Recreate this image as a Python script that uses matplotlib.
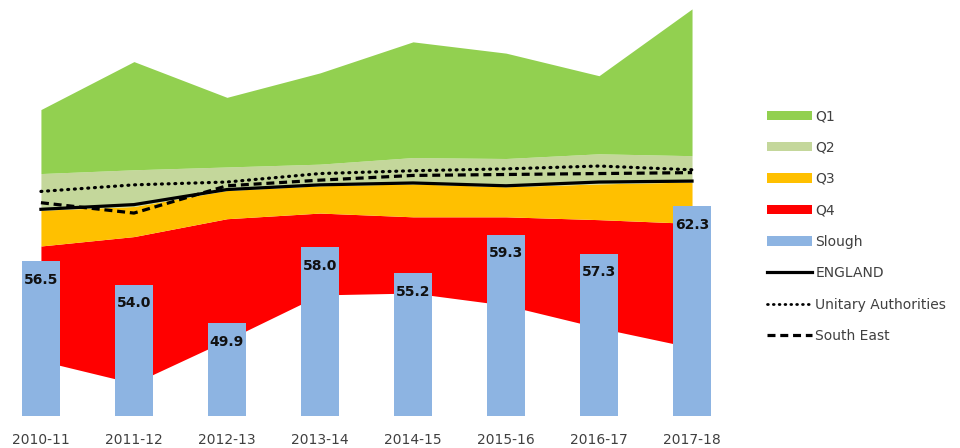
import numpy as np
import matplotlib.pyplot as plt
from matplotlib.patches import Patch
from matplotlib.lines import Line2D

years = ['2010-11', '2011-12', '2012-13', '2013-14',
         '2014-15', '2015-16', '2016-17', '2017-18']

# quartile band edges across all authorities
lowest = [45.9, 43.5, 48.1, 52.9, 53.1, 51.8, 49.4, 47.3]
lower_q = [58.1, 59.1, 61.0, 61.6, 61.2, 61.2, 60.9, 60.5]
median = [61.9, 62.3, 64.0, 64.5, 64.7, 64.4, 64.7, 64.9]
upper_q = [65.8, 66.2, 66.5, 66.8, 67.5, 67.4, 67.9, 67.7]
highest = [72.6, 77.7, 73.9, 76.5, 79.8, 78.6, 76.2, 83.3]

slough = [56.5, 54.0, 49.9, 58.0, 55.2, 59.3, 57.3, 62.3]
england = [62.0, 62.5, 64.1, 64.6, 64.8, 64.5, 64.9, 65.0]
unitary = [63.9, 64.6, 64.9, 65.8, 66.1, 66.3, 66.6, 66.2]
south_east = [62.7, 61.6, 64.5, 65.1, 65.6, 65.7, 65.8, 65.9]

c_q1 = '#92D050'
c_q2 = '#C4D79B'
c_q3 = '#FFC000'
c_q4 = '#FF0000'
c_bar = '#8DB4E2'
c_text = '#404040'

dotted = (0, (0.3, 1.8))
dashed = (0, (2.5, 1.5))

x = np.arange(len(years))

fig = plt.figure(figsize=(9.6, 4.48), dpi=100)
ax = fig.add_axes([0.0, 0.0708, 0.7635, 0.924])

ax.fill_between(x, lowest, lower_q, color=c_q4, lw=0, zorder=1)
ax.fill_between(x, lower_q, median, color=c_q3, lw=0, zorder=1)
ax.fill_between(x, median, upper_q, color=c_q2, lw=0, zorder=1)
ax.fill_between(x, upper_q, highest, color=c_q1, lw=0, zorder=1)

bars = ax.bar(x, slough, width=0.4, bottom=0, color=c_bar, zorder=2)
for xi, v in zip(x, slough):
    ax.annotate('{:.1f}'.format(v), (xi, v), xytext=(0, -13.5),
                textcoords='offset points', ha='center', va='center',
                fontsize=10, fontweight='bold', color='#111111', zorder=5)

ax.plot(x, england, color='black', lw=2.3, ls='-', zorder=3)
ax.plot(x, unitary, color='black', lw=2.3, ls=dotted,
        dash_capstyle='round', zorder=3)
ax.plot(x, south_east, color='black', lw=2.3, ls=dashed, zorder=3)

ax.set_xlim(-0.44, 7.44)
ax.set_ylim(40, 84)
ax.set_xticks(x)
ax.set_xticklabels(years, fontsize=10, color=c_text)
ax.tick_params(axis='x', length=0, pad=12)
ax.set_yticks([])
for s in ax.spines.values():
    s.set_visible(False)

handles = [
    Patch(facecolor=c_q1, label='Q1'),
    Patch(facecolor=c_q2, label='Q2'),
    Patch(facecolor=c_q3, label='Q3'),
    Patch(facecolor=c_q4, label='Q4'),
    Patch(facecolor=c_bar, label='Slough'),
    Line2D([], [], color='black', lw=2.3, ls='-', label='ENGLAND'),
    Line2D([], [], color='black', lw=2.0, ls=dotted,
           dash_capstyle='round', label='Unitary Authorities'),
    Line2D([], [], color='black', lw=2.3, ls=dashed, label='South East'),
]
leg = fig.legend(handles=handles, loc='upper left',
                 bbox_to_anchor=(0.7935, 0.769), frameon=False,
                 fontsize=10, handlelength=3.2, handleheight=0.65,
                 handletextpad=0.25, labelspacing=1.255, borderaxespad=0)
for t in leg.get_texts():
    t.set_color(c_text)

fig.savefig('out.png', dpi=100)
